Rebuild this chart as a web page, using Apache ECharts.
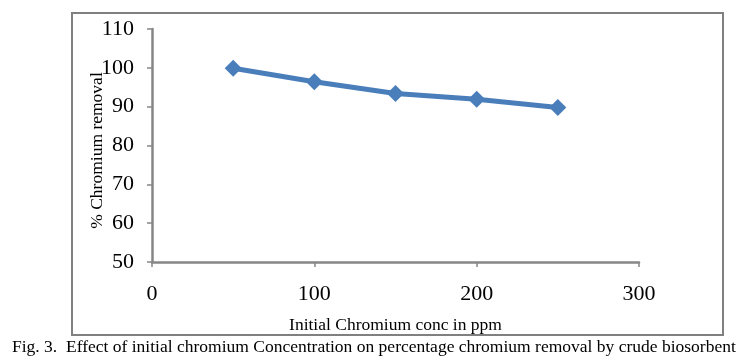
<!DOCTYPE html>
<html><head><meta charset="utf-8">
<script src="https://cdn.jsdelivr.net/npm/echarts@6/dist/echarts.min.js"></script>
<style>html,body{margin:0;padding:0;background:#fff}#c{width:753px;height:363px}</style>
</head><body><div id="c"></div>
<script>
const concentration = [50, 100, 150, 200, 250];
const removal = [99.9, 96.4, 93.4, 91.9, 89.8];
const xTicks = [0, 100, 200, 300];
const yTicks = [50, 60, 70, 80, 90, 100, 110];
const xTitle = 'Initial Chromium conc in ppm';
const yTitle = '% Chromium removal';
const caption = 'Fig. 3.  Effect of initial chromium Concentration on percentage chromium removal by crude biosorbent';

const font = '"Liberation Serif", "Times New Roman", serif';
const axisCol = '#868686';
const chart = echarts.init(document.getElementById('c'), null, {renderer: 'canvas'});
chart.setOption({
  animation: false,
  backgroundColor: '#fff',
  grid: {left: 152, top: 29, width: 487, height: 233, containLabel: false},
  xAxis: {
    type: 'value', min: xTicks[0], max: xTicks[xTicks.length - 1], interval: 100,
    axisLine: {lineStyle: {color: axisCol, width: 2.5}},
    axisTick: {show: true, length: 5, lineStyle: {color: axisCol, width: 1.5}},
    splitLine: {show: false},
    axisLabel: {color: '#000', fontFamily: font, fontSize: 22, margin: 21},
    name: xTitle, nameLocation: 'middle', nameGap: 54, nameMoveOverlap: false,
    nameTextStyle: {color: '#000', fontFamily: font, fontSize: 17.5}
  },
  yAxis: {
    type: 'value', min: yTicks[0], max: yTicks[yTicks.length - 1], interval: 10,
    axisLine: {show: true, lineStyle: {color: axisCol, width: 2.5}},
    axisTick: {show: true, length: 5, lineStyle: {color: axisCol, width: 1.5}},
    splitLine: {show: false},
    axisLabel: {color: '#000', fontFamily: font, fontSize: 22, margin: 18},
    name: yTitle, nameLocation: 'middle', nameGap: 46, nameRotate: 90, nameMoveOverlap: false,
    nameTextStyle: {color: '#000', fontFamily: font, fontSize: 17.5, padding: [0, 10, 0, 0]}
  },
  series: [{
    type: 'line',
    data: concentration.map((x, i) => [x, removal[i]]),
    symbol: 'diamond', symbolSize: 17,
    lineStyle: {color: '#4A7EBB', width: 5},
    itemStyle: {color: '#4A7EBB'}
  }],
  graphic: [
    {type: 'rect', shape: {x: 72, y: 13, width: 651, height: 322}, style: {fill: 'none', stroke: '#808080', lineWidth: 2}, z: -1},
    {type: 'text', left: 12, top: 338, style: {text: caption, fill: '#000', font: '17.5px ' + font}}
  ]
});
</script></body></html>
